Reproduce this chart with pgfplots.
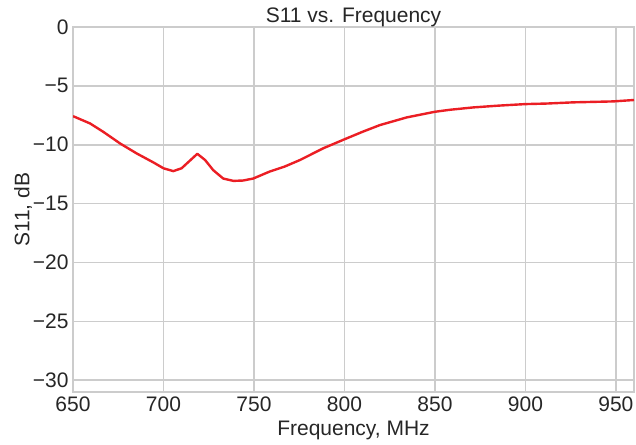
\documentclass[border=0pt]{standalone}
\usepackage{pgfplots}
\pgfplotsset{compat=1.18}
\usepackage{fontspec}
\setmainfont{Liberation Sans}
\definecolor{txt}{RGB}{38,38,38}
\definecolor{gridc}{RGB}{204,204,204}
\definecolor{curve}{RGB}{235,30,36}
\begin{document}
\begin{tikzpicture}
\begin{axis}[
    name=ax,
    scale only axis,
    width=561pt,
    height=365pt,
    xmin=650, xmax=960,
    ymin=-31, ymax=0,
    xtick={650,700,...,950},
    ytick={-30,-25,...,0},
    yticklabels={−30,−25,−20,−15,−10,−5,0},
    grid=major,
    major grid style={line width=1.6pt, draw=gridc},
    axis line style={line width=1.6pt, draw=gridc},
    major tick length=0pt,
    font=\fontsize{21}{25}\selectfont,
    ticklabel style={text=txt},
    /pgf/number format/assume math mode=true,
    /pgf/number format/1000 sep={},
    xticklabel style={yshift=-1pt},
    yticklabel style={xshift=-1pt},
    title={S11 vs. Frequency},
    title style={text=txt, yshift=-9pt},
    xlabel={Frequency, MHz},
    ylabel={S11, dB},
    xlabel style={text=txt, yshift=-3pt},
    ylabel style={text=txt, yshift=-6pt},
    clip=true,
]
\addplot[color=curve, line width=2.4pt, line join=round] coordinates {
    (650,-7.57)(659.4,-8.19)(666.7,-8.9)(676,-9.89)(685.2,-10.74)
    (694.4,-11.5)(700,-12.0)(705.4,-12.24)(710,-12.0)(718.7,-10.77)
    (723,-11.3)(727.5,-12.16)(733,-12.87)(738.6,-13.07)(744,-13.04)
    (749.6,-12.87)(758.8,-12.27)(767,-11.85)(775.4,-11.3)(788.3,-10.3)
    (800.3,-9.52)(810,-8.9)(819.6,-8.33)(834.4,-7.68)(850,-7.2)
    (858.3,-7.03)(871.2,-6.83)(885,-6.68)(899.7,-6.55)(912,-6.5)
    (926.4,-6.4)(948.5,-6.32)(960,-6.2)
};
\end{axis}
\pgfresetboundingbox
\useasboundingbox ([xshift=-73pt,yshift=-52pt]ax.south west) rectangle ([xshift=2pt,yshift=27pt]ax.north east);
\end{tikzpicture}
\end{document}
